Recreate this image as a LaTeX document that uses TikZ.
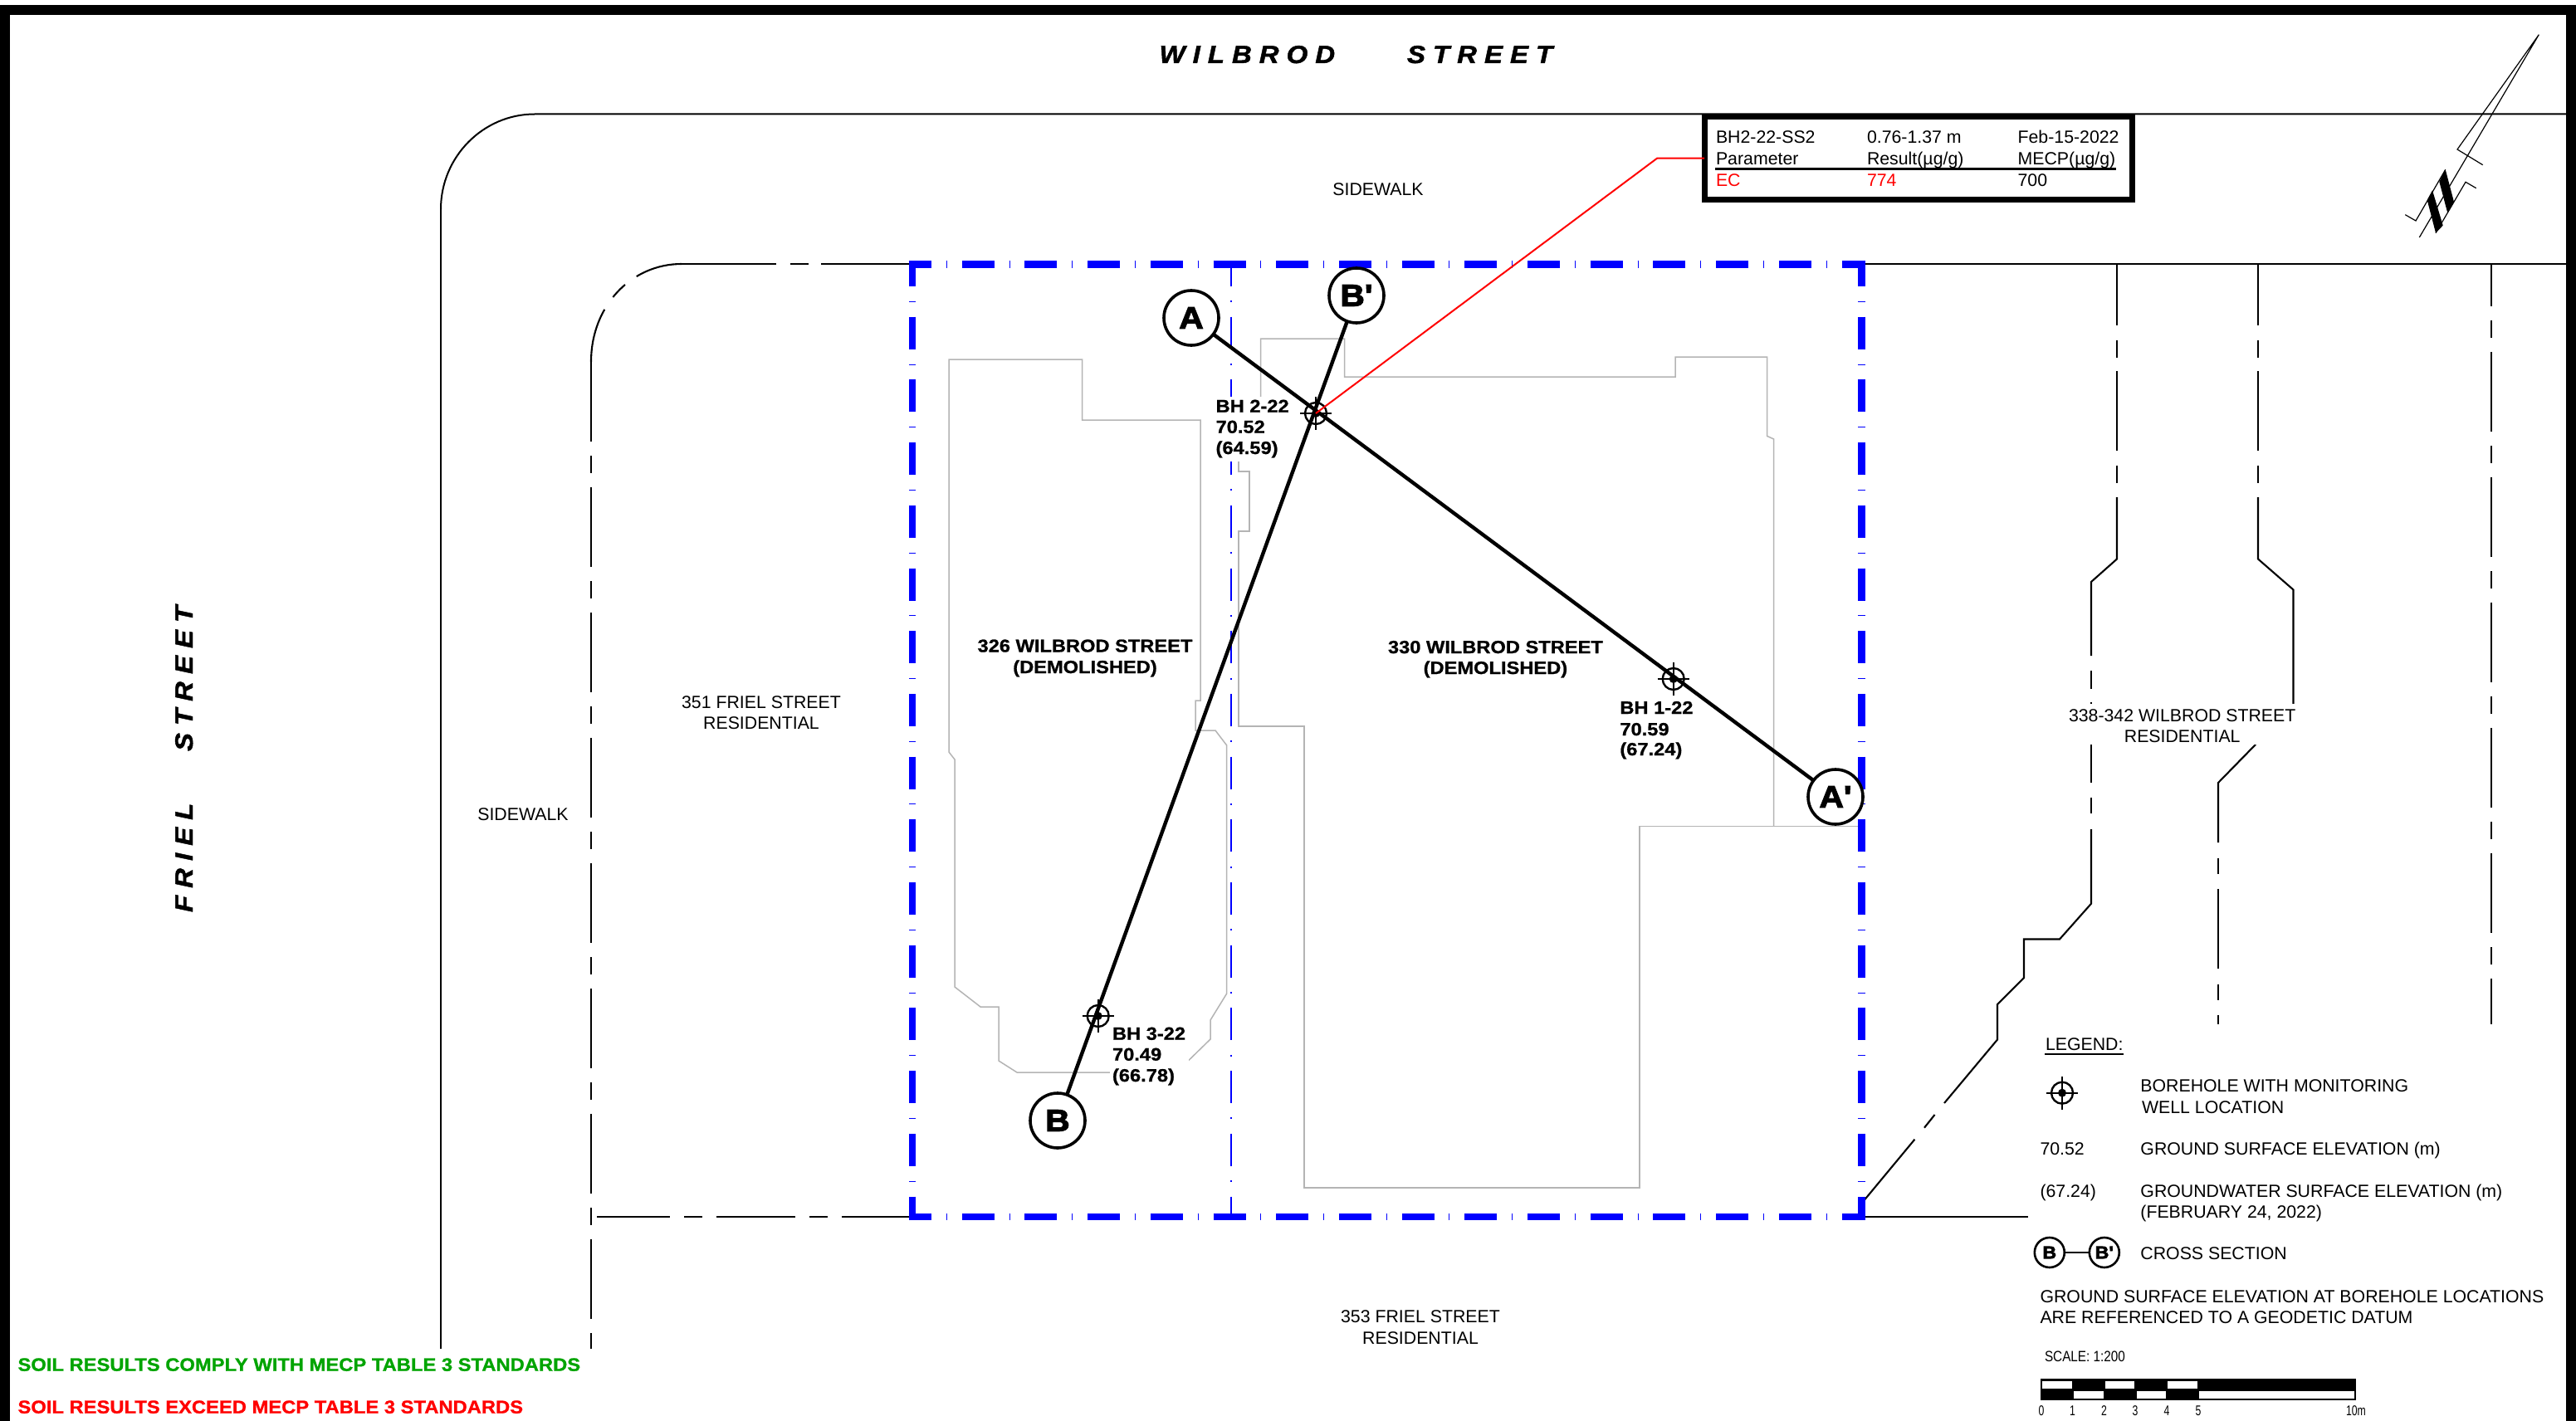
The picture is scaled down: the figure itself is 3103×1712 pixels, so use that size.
\documentclass[tikz,border=0pt]{standalone}
\usepackage{fontspec}
\setmainfont{Liberation Sans}
\newfontfamily\labf[UprightFont=* Bold,FakeStretch=1.1,FakeBold=1]{Liberation Sans}
\newfontfamily\circf[UprightFont=* Bold,FakeStretch=1.1,FakeBold=3]{Liberation Sans}
\newfontfamily\notef[UprightFont=* Bold,FakeStretch=1.08,FakeBold=1]{Liberation Sans}
\newfontfamily\streetf[UprightFont=* Bold Italic,FakeStretch=1.1,LetterSpace=30,FakeBold=1.5]{Liberation Sans}
\definecolor{bldg}{HTML}{B4B4B4}
\definecolor{okgreen}{HTML}{00A400}
\tikzset{
 tl/.style={anchor=base west,inner sep=0pt,outer sep=0pt,font=\fontsize{21.3}{25}\selectfont},
 tc/.style={anchor=base,inner sep=0pt,outer sep=0pt,font=\fontsize{21.3}{25}\selectfont},
 lab/.style={anchor=base west,inner sep=0pt,outer sep=0pt,font=\fontsize{21.5}{25}\labf},
 labc/.style={anchor=base,inner sep=0pt,outer sep=0pt,font=\fontsize{21.5}{25}\labf},
 notetxt/.style={anchor=base west,inner sep=0pt,outer sep=0pt,font=\fontsize{22}{25}\notef},
 street/.style={anchor=base west,inner sep=0pt,outer sep=0pt,font=\fontsize{30}{34}\streetf},
 scl/.style={anchor=center,inner sep=0pt,outer sep=0pt,xscale=.72,transform shape,font=\fontsize{17}{19}\selectfont},
 bldgline/.style={draw=bldg,line width=1.5pt,line join=miter},
 road/.style={draw=black,line width=2.1pt,line join=miter},
 longdash/.style={dash pattern=on 96pt off 17pt on 21pt off 17pt},
 bluebig/.style={draw=blue,line width=8.7pt,dash pattern=on 39pt off 17.85pt on 1pt off 17.85pt},
 bluesmall/.style={draw=blue,line width=2pt,dash pattern=on 39pt off 17.35pt on 2pt off 17.35pt},
 secnode/.style={circle,draw=black,fill=white,line width=3.6pt,minimum size=66pt,inner sep=0pt,outer sep=0pt,font=\fontsize{37}{40}\circf},
 legnode/.style={circle,draw=black,fill=white,line width=2.6pt,minimum size=36pt,inner sep=0pt,outer sep=0pt,font=\fontsize{21}{24}\circf},
 bhring/.style={circle,draw=black,line width=2.4pt,minimum size=26pt,inner sep=0pt,outer sep=0pt},
 bhcross/.style={draw=black,line width=2.2pt},
 secline/.style={draw=black,line width=4.4pt},
}
\newcommand{\bhole}[3]{%
 \node[bhring] (#1) at (#2,#3) {};
 \draw[bhcross] (#2-19,#3) -- (#2+19,#3);
 \draw[bhcross] (#2,#3-20) -- (#2,#3+20);
 \fill[black] (#1.center) circle (5pt);
}
\begin{document}
\begin{tikzpicture}[x=1pt,y=-1pt]
\useasboundingbox (0,0) rectangle (3103,1712);
\fill[white] (0,0) rectangle (3103,1712);
% frame
\fill[black] (0,6) rectangle (3103,18.5);
\fill[black] (0,6) rectangle (12,1712);
\fill[black] (3091,6) rectangle (3103,1712);
% buildings
\draw[bldgline] (1143,433) -- (1303.5,433) -- (1303.5,506) -- (1446,506) -- (1446,844) -- (1440,844) -- (1440,880) -- (1464,880) -- (1477.7,898) -- (1477.7,1197) -- (1458,1229) -- (1458,1252) -- (1417,1292) -- (1225,1292) -- (1203,1278) -- (1203,1213) -- (1181,1213) -- (1150,1189) -- (1150,915) -- (1143,906) -- cycle;
\draw[bldgline] (1518.6,520) -- (1518.6,408) -- (1619.5,408) -- (1619.5,454) -- (2018,454) -- (2018,430) -- (2128.6,430) -- (2128.6,525.4) -- (2136.7,529) -- (2136.7,995.5);
\draw[bldgline] (2243,995.5) -- (1975,995.5) -- (1975,1431) -- (1571,1431) -- (1571,875) -- (1492,875) -- (1492,640) -- (1505,640) -- (1505,568) -- (1492,568) -- (1492,520) -- (1518.6,520);
% roads
\draw[road,line width=2pt] (3091,137.5) -- (644,137.5) .. controls (582,137.5) and (531,189) .. (531,252);
\draw[road,line width=1.5pt] (531,252) -- (531,1625);
\draw[road,line width=2.6pt,dash pattern=on 114pt off 17pt on 22pt off 15pt on 200pt] (821,318) -- (1098,318);
\draw[road,dash pattern=on 57pt off 17pt on 21pt off 18pt on 100pt] (821,318) .. controls (761,318) and (712,368) .. (712,436);
\draw[road,longdash] (712,436) -- (712,1625);
\draw[road,line width=2.6pt,dash pattern=on 95pt off 17pt on 22pt off 17pt,dash phase=7pt] (719,1466) -- (1098,1466);
\draw[road] (2243,318) -- (3091,318);
\draw[road] (2243,1466) -- (2442.7,1466);
% right-hand lot lines
\draw[road] (2550,318) -- (2550,391.5);
\draw[road] (2550,409.5) -- (2550,430.5);
\draw[road] (2550,447) -- (2550,543);
\draw[road] (2550,560.5) -- (2550,581.5);
\draw[road] (2550,599) -- (2550,673.5) -- (2519,701) -- (2519,790);
\draw[road] (2519,808) -- (2519,830);
\draw[road] (2519,846) -- (2519,943);
\draw[road] (2519,960.5) -- (2519,980);
\draw[road] (2519,999) -- (2519,1088.7) -- (2481,1131.5) -- (2438,1131.5) -- (2438,1178) -- (2406,1210) -- (2406,1252.5) -- (2342,1329);
\draw[road] (2330.5,1343) -- (2318,1358.7);
\draw[road] (2306.4,1372.7) -- (2241.7,1450.7);
\draw[road] (2720,318) -- (2720,391.5);
\draw[road] (2720,409.5) -- (2720,430.5);
\draw[road] (2720,447) -- (2720,543);
\draw[road] (2720,560.5) -- (2720,581.5);
\draw[road] (2720,599) -- (2720,673.5) -- (2762.5,710.5) -- (2762.5,851);
\draw[road] (2717,897) -- (2672,943) -- (2672,1015);
\draw[road] (2672,1034) -- (2672,1053);
\draw[road] (2672,1071) -- (2672,1166.5);
\draw[road] (2672,1185.6) -- (2672,1205);
\draw[road] (2672,1222.6) -- (2672,1233.5);
\draw[road,longdash,dash phase=45pt] (3001,318) -- (3001,1233.5);
% site boundary
\draw[bluesmall,dash phase=12pt] (1483,318) -- (1483,1466);
\draw[bluebig,dash phase=8pt] (1099,314) -- (1099,1470);
\draw[bluebig,dash phase=8pt] (2242.5,314) -- (2242.5,1470);
\draw[bluebig,dash phase=11.5pt] (1094.5,318.5) -- (2247,318.5);
\draw[bluebig,dash phase=11.5pt] (1094.5,1466) -- (2247,1466);
% clear space behind labels
\fill[white] (1462,478) rectangle (1557,556);
\fill[white] (1337,1235) rectangle (1432,1310);
\fill[white] (2490,848) rectangle (2765,897);
% street names
\node[street] (wil) at (1396.5,76) {WILBROD};
\node[street] (str1) at (1695,76) {STREET};
\node[street,rotate=90] (fri) at (232,1099) {FRIEL};
\node[street,rotate=90] (str2) at (232,905) {STREET};
% labels
\node[tc] (sw1) at (1660,236) {SIDEWALK};
\node[tc] (sw2) at (630,988) {SIDEWALK};
\node[tc] (f1) at (917,853) {351 FRIEL STREET};
\node[tc] (f2) at (917,878.5) {RESIDENTIAL};
\node[tc] (f3) at (1711,1593) {353 FRIEL STREET};
\node[tc] (f4) at (1711,1619) {RESIDENTIAL};
\node[tc] (w1) at (2628.7,869) {338-342 WILBROD STREET};
\node[tc] (w2) at (2628.7,894) {RESIDENTIAL};
\node[labc] (b1) at (1307,785.5) {326 WILBROD STREET};
\node[labc] (b2) at (1307,811) {(DEMOLISHED)};
\node[labc] (b3) at (1801.4,787) {330 WILBROD STREET};
\node[labc] (b4) at (1801.4,812) {(DEMOLISHED)};
\node[lab] (h21) at (1464.6,496.7) {BH 2-22};
\node[lab] (h22) at (1464.6,521.7) {70.52};
\node[lab] (h23) at (1464.6,547) {(64.59)};
\node[lab] (h11) at (1951.4,860) {BH 1-22};
\node[lab] (h12) at (1951.4,886) {70.59};
\node[lab] (h13) at (1951.4,910) {(67.24)};
\node[lab] (h31) at (1340,1252.7) {BH 3-22};
\node[lab] (h32) at (1340,1277.7) {70.49};
\node[lab] (h33) at (1340,1303) {(66.78)};
% notes
\node[notetxt,text=okgreen] (n1) at (21.5,1651.7) {SOIL RESULTS COMPLY WITH MECP TABLE 3 STANDARDS};
\node[notetxt,text=red] (n2) at (21.5,1702.7) {SOIL RESULTS EXCEED MECP TABLE 3 STANDARDS};
% section lines
\node[secnode] (A) at (1435,383) {A};
\node[secnode] (Ap) at (2211,960) {A'};
\node[secnode] (B) at (1274,1350) {B};
\node[secnode] (Bp) at (1634,356) {B'};
\draw[secline] (A) -- (Ap);
\draw[secline] (B) -- (Bp);
\bhole{bh2}{1585}{498}
\bhole{bh1}{2015.7}{818}
\bhole{bh3}{1322.7}{1224}
% result table
\node[draw=black,fill=white,line width=7pt,minimum width=515.5pt,minimum height=99.5pt,inner sep=0pt,outer sep=0pt] (tbl) at (2310.75,190.75) {};
\coordinate (elbow) at (1996,190.75);
\draw[red,line width=2pt] (bh2.center) -- (elbow) -- (tbl.west);
\node[tl] (c11) at (2067,172.7) {BH2-22-SS2};
\node[tl] (c12) at (2249,172.7) {0.76-1.37 m};
\node[tl] (c13) at (2430.6,172.7) {Feb-15-2022};
\node[tl] (c21) at (2067,199) {Parameter};
\node[tl] (c22) at (2249,199) {Result(µg/g)};
\node[tl] (c23) at (2430.6,199) {MECP(µg/g)};
\draw[black,line width=2.4pt] (2066,203.5) -- (2549,203.5);
\node[tl,text=red] (c31) at (2067,225) {EC};
\node[tl,text=red] (c32) at (2249,225) {774};
\node[tl] (c33) at (2430.6,225) {700};
% north arrow
\draw[black,line width=1.2pt,line join=miter] (2990.7,198.7) -- (2960,180) -- (3058.3,41.7) -- (2914.3,286);
\draw[black,line width=1.2pt,line join=miter] (2982.7,226.7) -- (2970,219.3) -- (2934,280.7);
\draw[black,line width=1.2pt,line join=miter] (2945.7,204.3) -- (2910,266) -- (2897.3,258.7);
\fill[black] (2945.7,204.3) -- (2956,243.3) -- (2948.3,256.7) -- (2938.3,219) -- cycle;
\fill[black] (2930,229.3) -- (2942.7,271.7) -- (2934,280.7) -- (2923.7,241) -- cycle;
% legend
\node[tl] (l0) at (2464,1265) {LEGEND:};
\draw[black,line width=2pt] (2463.4,1269.5) -- (2557.8,1269.5);
\bhole{lbh}{2484}{1316.7}
\node[tl] (l1) at (2578.4,1315) {BOREHOLE WITH MONITORING};
\node[tl] (l2) at (2580,1341) {WELL LOCATION};
\node[tl] (l3) at (2457.5,1391) {70.52};
\node[tl] (l4) at (2578.4,1391) {GROUND SURFACE ELEVATION (m)};
\node[tl] (l5) at (2457.5,1442) {(67.24)};
\node[tl] (l6) at (2578.4,1442) {GROUNDWATER SURFACE ELEVATION (m)};
\node[tl] (l7) at (2578.4,1467) {(FEBRUARY 24, 2022)};
\node[legnode] (lb) at (2468.8,1509) {B};
\node[legnode] (lbp) at (2534.8,1509) {B'};
\draw[black,line width=2.6pt] (lb) -- (lbp);
\node[tl] (l8) at (2578.4,1517) {CROSS SECTION};
\node[tl] (l9) at (2457.5,1569) {GROUND SURFACE ELEVATION AT BOREHOLE LOCATIONS};
\node[tl] (l10) at (2457.5,1594) {ARE REFERENCED TO A GEODETIC DATUM};
\node[tl,xscale=.85,transform shape,font=\fontsize{18}{20}\selectfont] (l11) at (2463,1640.7) {SCALE: 1:200};
% scale bar
\fill[black] (2457.5,1660.7) rectangle (2838,1687.3);
\fill[white] (2460,1663.7) rectangle (2495.7,1672.7);
\fill[white] (2535.7,1663.7) rectangle (2571,1672.7);
\fill[white] (2611,1663.7) rectangle (2647,1672.7);
\fill[white] (2498,1675.7) rectangle (2533.5,1685.3);
\fill[white] (2573.5,1675.7) rectangle (2609,1685.3);
\fill[white] (2649,1675.7) rectangle (2836,1685.3);
\node[scl] (s0) at (2459,1700) {0};
\node[scl] (s1) at (2496.6,1700) {1};
\node[scl] (s2) at (2534.4,1700) {2};
\node[scl] (s3) at (2572,1700) {3};
\node[scl] (s4) at (2610,1700) {4};
\node[scl] (s5) at (2648,1700) {5};
\node[scl] (s10) at (2838,1700) {10m};
\end{tikzpicture}
\end{document}
